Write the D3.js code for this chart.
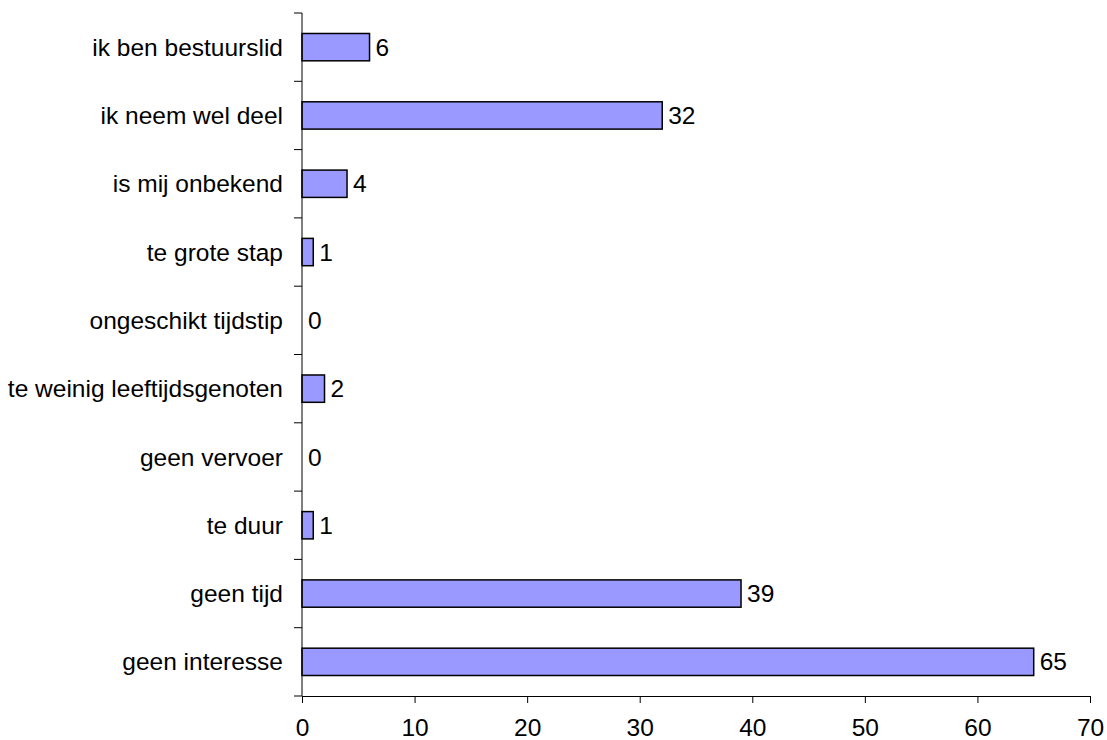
<!DOCTYPE html>
<html><head><meta charset="utf-8">
<script src="https://cdn.jsdelivr.net/npm/d3@7"></script>
<style>body{margin:0;background:#fff}svg{display:block}text{font-family:"Liberation Sans",Arial,sans-serif;fill:#000}</style>
</head><body>
<svg id="c" width="1107" height="740"></svg>
<script>
const categories = ["ik ben bestuurslid","ik neem wel deel","is mij onbekend","te grote stap","ongeschikt tijdstip","te weinig leeftijdsgenoten","geen vervoer","te duur","geen tijd","geen interesse"];
const values = [6,32,4,1,0,2,0,1,39,65];
const xTicks = [0,10,20,30,40,50,60,70];

const FS = 24.5;
const svg = d3.select("#c");
const x = d3.scaleLinear().domain([0,70]).range([302,1090]);
const y = d3.scaleBand().domain(categories).range([13,696]).paddingInner(0.6).paddingOuter(0.3);

// bars
svg.selectAll("rect.bar").data(values).join("rect")
  .attr("x", x(0)).attr("y",(d,i)=>y(categories[i]))
  .attr("width", d=>x(d)-x(0)).attr("height", y.bandwidth())
  .attr("fill","#9999ff").attr("stroke","#000").attr("stroke-width",1.5)
  .attr("display", d=> d===0 ? "none" : null);

// value labels
svg.selectAll("text.val").data(values).join("text")
  .attr("x", d=>x(d)+6).attr("y",(d,i)=>y(categories[i])+y.bandwidth()/2)
  .attr("dy","0.35em").attr("font-size",FS).text(d=>d);

// x axis
const gx = svg.append("g").attr("transform","translate(0,696)")
  .call(d3.axisBottom(x).tickValues(xTicks).tickSize(7).tickPadding(16).tickSizeOuter(0));
gx.select(".domain").attr("stroke","#000");
gx.selectAll("text").attr("font-size",FS).attr("font-family","Liberation Sans, Arial, sans-serif");

// y axis line and ticks at band boundaries
const bounds = d3.range(categories.length+1).map(i=>13 + i*(683/categories.length));
svg.append("line").attr("x1",302).attr("x2",302).attr("y1",13).attr("y2",696).attr("stroke","#000");
svg.selectAll("line.yt").data(bounds).join("line")
  .attr("x1",294).attr("x2",302).attr("y1",d=>d).attr("y2",d=>d).attr("stroke","#000");

// category labels
svg.selectAll("text.cat").data(categories).join("text")
  .attr("x",283).attr("y",d=>y(d)+y.bandwidth()/2).attr("dy","0.35em")
  .attr("text-anchor","end").attr("font-size",FS).text(d=>d);
</script>
</body></html>
